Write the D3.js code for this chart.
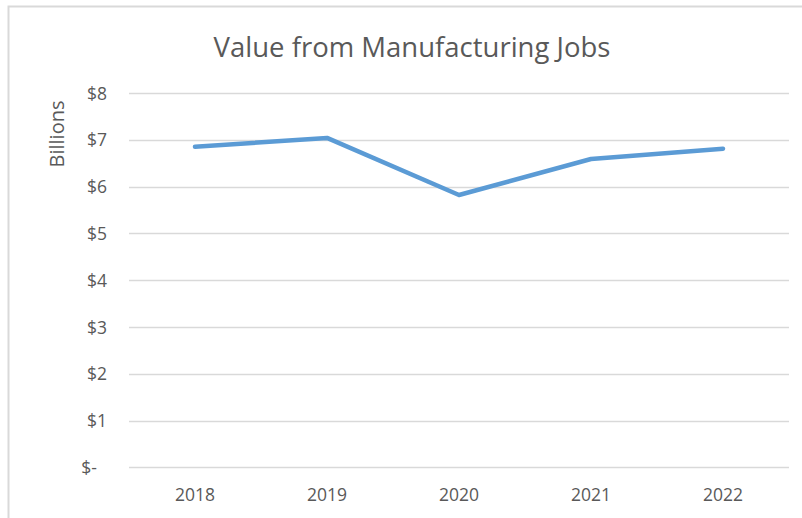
<!DOCTYPE html>
<html>
<head>
<meta charset="utf-8">
<script src="https://cdn.jsdelivr.net/npm/d3@7"></script>
<style>
  body { margin: 0; background: #fff; }
  svg { display: block; }
</style>
</head>
<body>
<script>
var years = ['2018', '2019', '2020', '2021', '2022'];
var values = [6.85, 7.04, 5.82, 6.59, 6.81];
var yTicks = [0, 1, 2, 3, 4, 5, 6, 7, 8];

var width = 802;
var height = 518;
var font = '"Open Sans", "Noto Sans", sans-serif';

var svg = d3.select('body')
  .append('svg')
  .attr('width', width)
  .attr('height', height);

// chart frame (only top and left edges show in the picture)
svg.append('path')
  .attr('d', 'M8.5,' + height + 'V6.5H' + width)
  .style('fill', 'none')
  .style('stroke', '#d9d9d9')
  .style('stroke-width', 2);

var x = d3.scalePoint()
  .domain(years)
  .range([129, 789])
  .padding(0.5);

var y = d3.scaleLinear()
  .domain([0, 8])
  .range([467.4, 93]);

// gridlines
svg.append('g')
  .selectAll('line')
  .data(yTicks)
  .enter()
  .append('line')
  .attr('x1', 129)
  .attr('x2', 789)
  .attr('y1', function(d) { return Math.round(y(d)) + 0.5; })
  .attr('y2', function(d) { return Math.round(y(d)) + 0.5; })
  .style('stroke', '#d9d9d9')
  .style('stroke-width', 1.5);

// y tick labels
svg.append('g')
  .selectAll('text')
  .data(yTicks)
  .enter()
  .append('text')
  .attr('x', function(d) { return d === 0 ? 97 : 107; })
  .attr('y', function(d) { return y(d) + 6.5; })
  .attr('text-anchor', 'end')
  .style('font-family', font)
  .style('font-size', '17.5px')
  .style('fill', '#595959')
  .text(function(d) { return d === 0 ? '$-' : '$' + d; });

// x tick labels
svg.append('g')
  .selectAll('text')
  .data(years)
  .enter()
  .append('text')
  .attr('x', function(d) { return x(d); })
  .attr('y', 500.5)
  .attr('text-anchor', 'middle')
  .style('font-family', font)
  .style('font-size', '17.5px')
  .style('fill', '#595959')
  .text(function(d) { return d; });

// axis title
svg.append('text')
  .attr('transform', 'translate(64,134) rotate(-90)')
  .attr('text-anchor', 'middle')
  .style('font-family', font)
  .style('font-size', '20px')
  .style('fill', '#595959')
  .text('Billions');

// chart title
svg.append('text')
  .attr('x', 412)
  .attr('y', 57)
  .attr('text-anchor', 'middle')
  .style('font-family', font)
  .style('font-size', '27.5px')
  .style('fill', '#595959')
  .text('Value from Manufacturing Jobs');

var line = d3.line()
  .x(function(d, i) { return x(years[i]); })
  .y(function(d) { return y(d); });

svg.append('path')
  .datum(values)
  .attr('d', line)
  .style('fill', 'none')
  .style('stroke', '#5b9bd5')
  .style('stroke-width', 4.5)
  .style('stroke-linecap', 'round')
  .style('stroke-linejoin', 'round');
</script>
</body>
</html>
